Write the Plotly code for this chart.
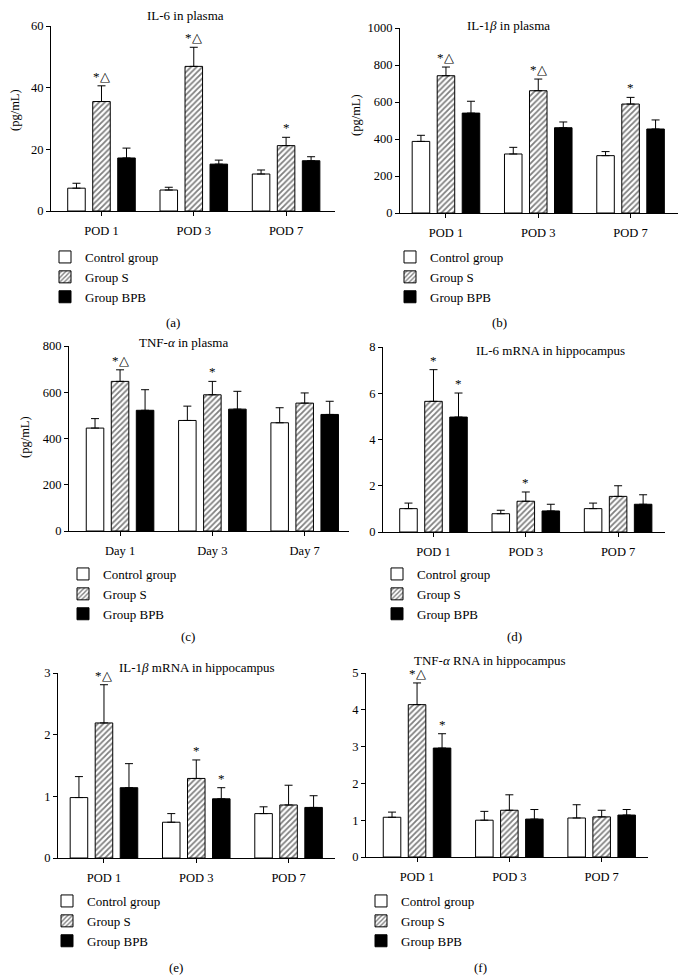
import plotly.graph_objects as go

W, H = 686, 976
FONT = "Liberation Serif, Times New Roman, serif"

CATS_POD = ["POD 1", "POD 3", "POD 7"]
CATS_DAY = ["Day 1", "Day 3", "Day 7"]
GROUPS = ["Control group", "Group S", "Group BPB"]

# (a) IL-6 in plasma
a_control = [7.4, 6.8, 12.0]
a_control_err = [1.6, 0.9, 1.3]
a_s = [35.5, 46.9, 21.2]
a_s_err = [5.1, 6.2, 2.7]
a_bpb = [17.2, 15.2, 16.3]
a_bpb_err = [3.2, 1.3, 1.3]
a_sig_s = ["*△", "*△", "*"]
a_sig_bpb = ["", "", ""]

# (b) IL-1β in plasma
b_control = [387, 319, 310]
b_control_err = [33, 36, 22]
b_s = [742, 661, 589]
b_s_err = [47, 63, 36]
b_bpb = [540, 461, 454]
b_bpb_err = [64, 31, 49]
b_sig_s = ["*△", "*△", "*"]
b_sig_bpb = ["", "", ""]

# (c) TNF-α in plasma
c_control = [445, 478, 468]
c_control_err = [41, 62, 65]
c_s = [647, 589, 553]
c_s_err = [50, 58, 44]
c_bpb = [522, 527, 504]
c_bpb_err = [89, 77, 57]
c_sig_s = ["*△", "*", ""]
c_sig_bpb = ["", "", ""]

# (d) IL-6 mRNA in hippocampus
d_control = [1.01, 0.79, 1.01]
d_control_err = [0.24, 0.15, 0.24]
d_s = [5.65, 1.33, 1.54]
d_s_err = [1.37, 0.40, 0.46]
d_bpb = [4.97, 0.91, 1.20]
d_bpb_err = [1.04, 0.29, 0.41]
d_sig_s = ["*", "*", ""]
d_sig_bpb = ["*", "", ""]

# (e) IL-1β mRNA in hippocampus
e_control = [0.98, 0.58, 0.72]
e_control_err = [0.34, 0.14, 0.11]
e_s = [2.19, 1.29, 0.86]
e_s_err = [0.62, 0.30, 0.32]
e_bpb = [1.14, 0.96, 0.82]
e_bpb_err = [0.39, 0.18, 0.19]
e_sig_s = ["*△", "*", ""]
e_sig_bpb = ["", "*", ""]

# (f) TNF-α RNA in hippocampus
f_control = [1.08, 1.00, 1.06]
f_control_err = [0.14, 0.24, 0.36]
f_s = [4.14, 1.27, 1.09]
f_s_err = [0.59, 0.42, 0.18]
f_bpb = [2.96, 1.03, 1.14]
f_bpb_err = [0.39, 0.26, 0.15]
f_sig_s = ["*△", "", ""]
f_sig_bpb = ["*", "", ""]

SLOT = 0.271
BARW = 0.19


def px_x(v):
    return v / W


def px_y(v):
    return 1 - v / H


panels = [
    dict(cats=CATS_POD, data=[(a_control, a_control_err), (a_s, a_s_err), (a_bpb, a_bpb_err)],
         sig=[None, a_sig_s, a_sig_bpb], xdom=(51, 335), ydom=(26, 211), xr=(-0.547, 2.53),
         yr=(0, 60), dtick=20, title="IL-6 in plasma", tpos=(185, 15),
         ytitle="(pg/mL)", ytpos=(15, 110), legpos=(45, 242), label="(a)", lpos=(173, 322)),
    dict(cats=CATS_POD, data=[(b_control, b_control_err), (b_s, b_s_err), (b_bpb, b_bpb_err)],
         sig=[None, b_sig_s, b_sig_bpb], xdom=(400, 678), ydom=(28, 213), xr=(-0.498, 2.514),
         yr=(0, 1000), dtick=200, title="IL-1<i>β</i> in plasma", tpos=(508, 25),
         ytitle="(pg/mL)", ytpos=(356, 115), legpos=(390, 242), label="(b)", lpos=(500, 322)),
    dict(cats=CATS_DAY, data=[(c_control, c_control_err), (c_s, c_s_err), (c_bpb, c_bpb_err)],
         sig=[None, c_sig_s, c_sig_bpb], xdom=(69, 349), ydom=(346, 531), xr=(-0.553, 2.48),
         yr=(0, 800), dtick=200, title="TNF-<i>α</i> in plasma", tpos=(183, 342),
         ytitle="(pg/mL)", ytpos=(25, 437), legpos=(63, 559), label="(c)", lpos=(188, 636)),
    dict(cats=CATS_POD, data=[(d_control, d_control_err), (d_s, d_s_err), (d_bpb, d_bpb_err)],
         sig=[None, d_sig_s, d_sig_bpb], xdom=(383, 665), ydom=(347, 532), xr=(-0.547, 2.508),
         yr=(0, 8), dtick=2, title="IL-6 mRNA in hippocampus", tpos=(550, 350),
         ytitle=None, ytpos=None, legpos=(377, 559), label="(d)", lpos=(514, 636)),
    dict(cats=CATS_POD, data=[(e_control, e_control_err), (e_s, e_s_err), (e_bpb, e_bpb_err)],
         sig=[None, e_sig_s, e_sig_bpb], xdom=(58, 335), ydom=(673, 858), xr=(-0.498, 2.503),
         yr=(0, 3), dtick=1, title="IL-1<i>β</i> mRNA in hippocampus", tpos=(197, 667),
         ytitle=None, ytpos=None, legpos=(47, 886), label="(e)", lpos=(176, 967)),
    dict(cats=CATS_POD, data=[(f_control, f_control_err), (f_s, f_s_err), (f_bpb, f_bpb_err)],
         sig=[None, f_sig_s, f_sig_bpb], xdom=(366, 648), ydom=(673, 857), xr=(-0.553, 2.502),
         yr=(0, 5), dtick=1, title="TNF-<i>α</i> RNA in hippocampus", tpos=(490, 660),
         ytitle=None, ytpos=None, legpos=(361, 886), label="(f)", lpos=(480, 967)),
]

styles = [
    dict(color="white", pattern=None),
    dict(color="white", pattern=dict(shape="/", fgcolor="black", bgcolor="white", size=4, solidity=0.45)),
    dict(color="black", pattern=None),
]

fig = go.Figure()
layout = dict(
    width=W, height=H, margin=dict(l=0, r=0, t=0, b=0, autoexpand=False),
    paper_bgcolor="white", plot_bgcolor="white",
    font=dict(family=FONT, size=13, color="black"),
    barmode="overlay", showlegend=True,
)
annotations = []

for p_i, p in enumerate(panels):
    n = p_i + 1
    xa = "x" if n == 1 else f"x{n}"
    ya = "y" if n == 1 else f"y{n}"
    leg = "legend" if n == 1 else f"legend{n}"
    for g_i, (vals, errs) in enumerate(p["data"]):
        off = (g_i - 1) * SLOT
        xs = [i + off for i in range(len(vals))]
        st = styles[g_i]
        marker = dict(color=st["color"], line=dict(color="black", width=1))
        if st["pattern"]:
            marker["pattern"] = st["pattern"]
        fig.add_trace(go.Bar(
            x=xs, y=vals, width=BARW, name=GROUPS[g_i], marker=marker,
            error_y=dict(type="data", array=errs, arrayminus=[0] * len(errs), symmetric=False,
                         color="black", thickness=1, width=4),
            xaxis=xa, yaxis=ya, legend=leg, showlegend=True, hoverinfo="skip",
        ))
        sig = p["sig"][g_i]
        if sig:
            for i, s in enumerate(sig):
                if s:
                    annotations.append(dict(
                        x=xs[i], y=vals[i] + errs[i], xref=xa, yref=ya, text=s,
                        showarrow=False, yanchor="bottom", xanchor="center",
                        font=dict(family=FONT, size=13, color="black"), yshift=0))
    axkey_x = "xaxis" if n == 1 else f"xaxis{n}"
    axkey_y = "yaxis" if n == 1 else f"yaxis{n}"
    layout[axkey_x] = dict(
        domain=[px_x(p["xdom"][0]), px_x(p["xdom"][1])], range=list(p["xr"]),
        anchor=ya, tickmode="array", tickvals=[0, 1, 2], ticktext=p["cats"],
        showline=True, linecolor="black", linewidth=1, ticks="outside", ticklen=4,
        tickcolor="black", showgrid=False, zeroline=False, fixedrange=True,
        ticklabelstandoff=4,
        tickfont=dict(family=FONT, size=12.5, color="black"),
    )
    layout[axkey_y] = dict(
        domain=[px_y(p["ydom"][1]), px_y(p["ydom"][0])], range=list(p["yr"]),
        anchor=xa, dtick=p["dtick"], tick0=0,
        showline=True, linecolor="black", linewidth=1, ticks="outside", ticklen=4,
        tickcolor="black", showgrid=False, zeroline=False, fixedrange=True,
        tickfont=dict(family=FONT, size=12.5, color="black"),
    )
    layout[leg] = dict(
        x=px_x(p["legpos"][0]), y=px_y(p["legpos"][1]), xanchor="left", yanchor="top",
        font=dict(family=FONT, size=13, color="black"), bgcolor="rgba(0,0,0,0)",
        tracegroupgap=0, traceorder="normal",
    )
    annotations.append(dict(
        x=px_x(p["tpos"][0]), y=px_y(p["tpos"][1]), xref="paper", yref="paper",
        text=p["title"], showarrow=False, xanchor="center", yanchor="middle",
        font=dict(family=FONT, size=13, color="black")))
    if p["ytitle"]:
        annotations.append(dict(
            x=px_x(p["ytpos"][0]), y=px_y(p["ytpos"][1]), xref="paper", yref="paper",
            text=p["ytitle"], showarrow=False, textangle=-90, xanchor="center", yanchor="middle",
            font=dict(family=FONT, size=12.5, color="black")))
    annotations.append(dict(
        x=px_x(p["lpos"][0]), y=px_y(p["lpos"][1]), xref="paper", yref="paper",
        text=p["label"], showarrow=False, xanchor="center", yanchor="middle",
        font=dict(family=FONT, size=13, color="black")))

layout["annotations"] = annotations
fig.update_layout(**layout)
fig.write_html("out.html", config={"displayModeBar": False},
               post_script="document.body.style.margin='0';")
